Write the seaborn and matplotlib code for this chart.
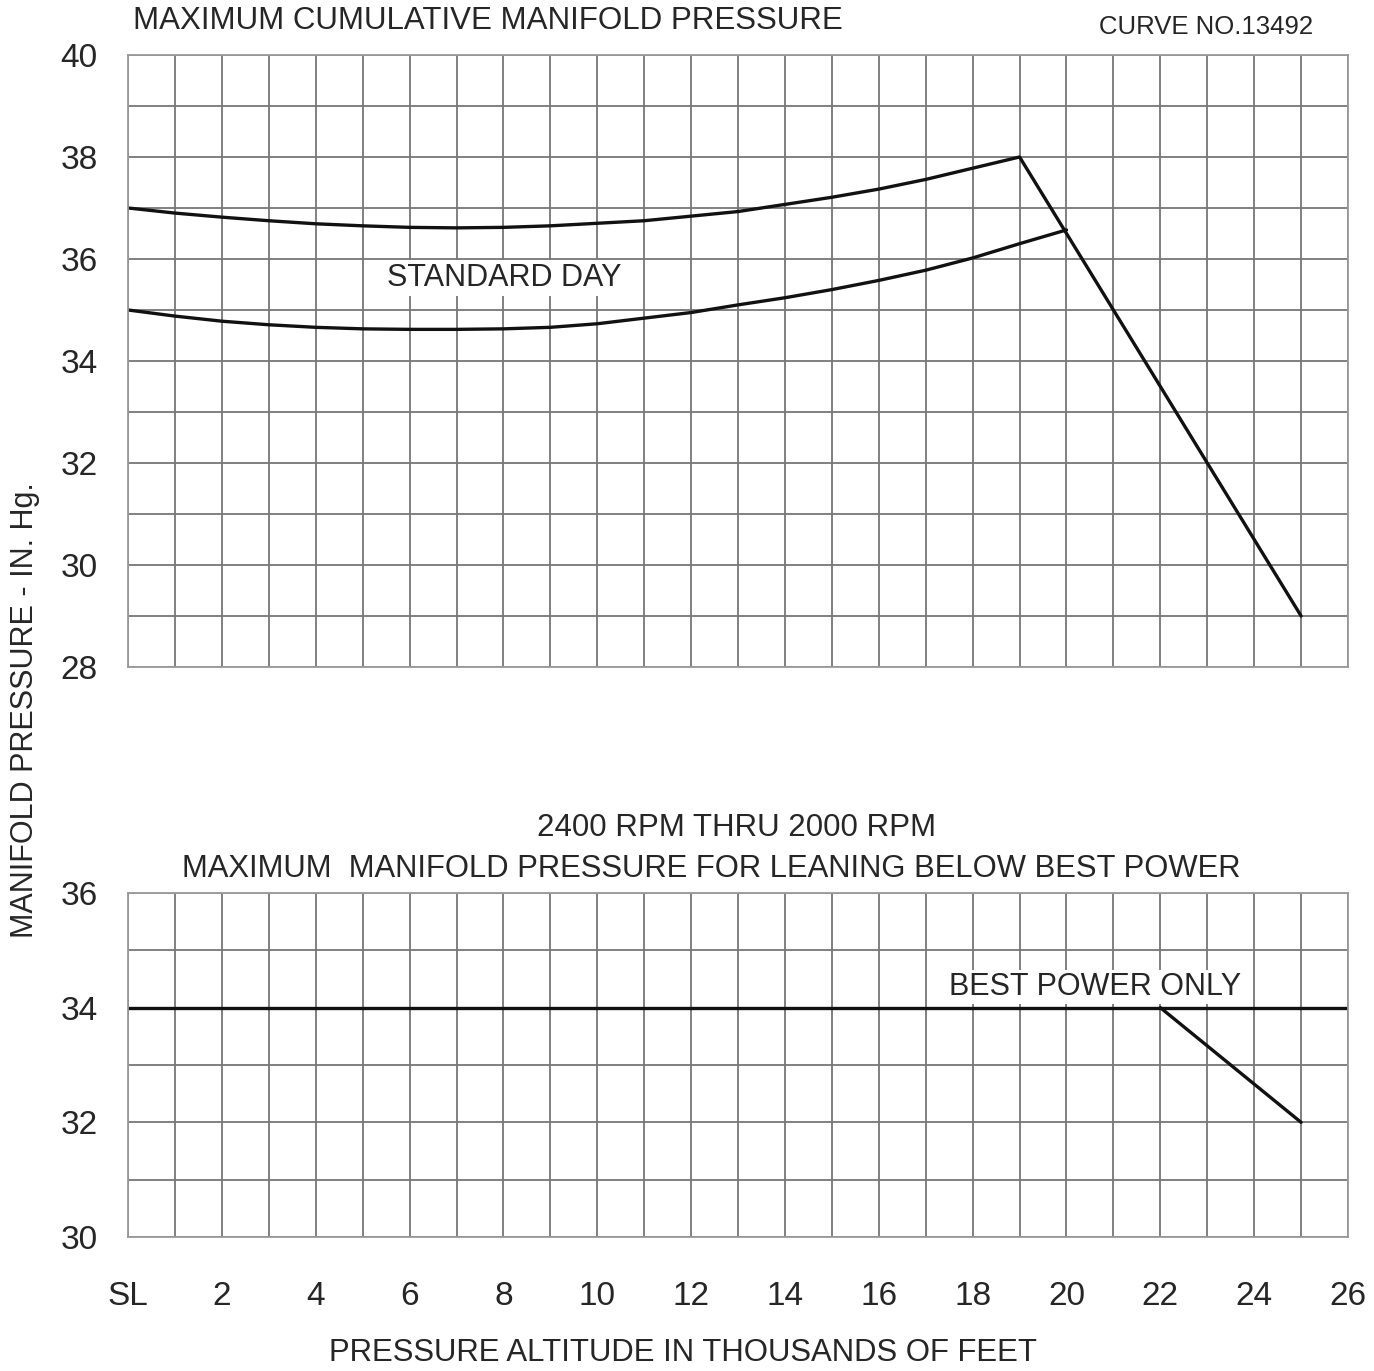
import matplotlib
matplotlib.use("Agg")
import matplotlib.pyplot as plt
import seaborn as sns
from matplotlib.ticker import MultipleLocator

# 上图: 最大累计进气压力
upper_alt = [0, 1, 2, 3, 4, 5, 6, 7, 8, 9, 10, 11, 12, 13, 14, 15, 16, 17, 18, 19, 25]
upper_mp = [37.0, 36.9, 36.82, 36.75, 36.69, 36.65, 36.62, 36.61, 36.62, 36.65, 36.7,
            36.75, 36.84, 36.93, 37.07, 37.21, 37.37, 37.56, 37.78, 38.0, 29.0]
std_alt = [0, 1, 2, 3, 4, 5, 6, 7, 8, 9, 10, 11, 12, 13, 14, 15, 16, 17, 18, 19, 20]
std_mp = [35.0, 34.88, 34.78, 34.71, 34.66, 34.63, 34.62, 34.62, 34.63, 34.66, 34.73,
          34.84, 34.95, 35.1, 35.24, 35.4, 35.58, 35.78, 36.02, 36.3, 36.57]

# 下图: 贫油限制
lean_alt = [0, 26]
lean_mp = [34.0, 34.0]
best_alt = [22, 25]
best_mp = [34.0, 32.0]

x_ticks = [0, 2, 4, 6, 8, 10, 12, 14, 16, 18, 20, 22, 24, 26]
x_labels = ["SL", "2", "4", "6", "8", "10", "12", "14", "16", "18", "20", "22", "24", "26"]

sns.set_style("white")
plt.rcParams["font.family"] = ["Liberation Sans", "DejaVu Sans"]

fig = plt.figure(figsize=(13.74, 13.71), dpi=100)
ax1 = fig.add_axes([0.0932, 0.5135, 0.8879, 0.4464])
ax2 = fig.add_axes([0.0932, 0.0977, 0.8879, 0.2510])

grid_kw = dict(color="#767676", linewidth=1.3)
line_kw = dict(color="#111111", linewidth=2.4)

for ax in (ax1, ax2):
    ax.set_xlim(0, 26)
    ax.xaxis.set_major_locator(MultipleLocator(1))
    ax.yaxis.set_major_locator(MultipleLocator(1))
    ax.grid(True, which="major", **grid_kw)
    for s in ax.spines.values():
        s.set_color("#9a9a9a")
        s.set_linewidth(1.3)
    ax.tick_params(length=0)

# 上图
sns.lineplot(x=upper_alt, y=upper_mp, ax=ax1, sort=False, **line_kw)
sns.lineplot(x=std_alt, y=std_mp, ax=ax1, sort=False, **line_kw)
ax1.set_ylim(28, 40)
ax1.set_yticks(range(28, 41, 1))
ax1.set_yticklabels([str(v) if v % 2 == 0 else "" for v in range(28, 41)], fontsize=24)
ax1.tick_params(axis="y", pad=22)
ax1.set_xticklabels([])
ax1.set_xlabel("")
ax1.set_ylabel("")
ax1.text(5.52, 35.63, "STANDARD DAY", fontsize=22, va="center", ha="left",
         bbox=dict(facecolor="white", edgecolor="none", pad=2))

# 下图
sns.lineplot(x=lean_alt, y=lean_mp, ax=ax2, **line_kw)
sns.lineplot(x=best_alt, y=best_mp, ax=ax2, **line_kw)
ax2.set_ylim(30, 36)
ax2.set_yticks(range(30, 37, 1))
ax2.set_yticklabels([str(v) if v % 2 == 0 else "" for v in range(30, 37)], fontsize=24)
ax2.tick_params(axis="y", pad=22)
ax2.set_xlabel("")
ax2.set_ylabel("")
ax2.text(17.5, 34.36, "BEST POWER ONLY", fontsize=22, va="center", ha="left",
         bbox=dict(facecolor="white", edgecolor="none", pad=1))

# x 轴刻度标签 (只在下图)
ax2.set_xticks(range(0, 27, 1))
ax2.set_xticklabels([x_labels[x_ticks.index(v)] if v in x_ticks else "" for v in range(0, 27)],
                    fontsize=24)
ax2.tick_params(axis="x", pad=32)

# 标题与轴标签
fig.text(133 / 1374, 1 - 21 / 1371, "MAXIMUM CUMULATIVE MANIFOLD PRESSURE",
         fontsize=22.5, ha="left", va="center")
fig.text(1313 / 1374, 1 - 27 / 1371, "CURVE NO.13492", fontsize=18.5, ha="right", va="center")
fig.text(737 / 1374, 1 - 828 / 1371, "2400 RPM THRU 2000 RPM", fontsize=22.5, ha="center", va="center")
fig.text(711 / 1374, 1 - 869 / 1371, "MAXIMUM  MANIFOLD PRESSURE FOR LEANING BELOW BEST POWER",
         fontsize=22.3, ha="center", va="center")
fig.text(683 / 1374, 1 - 1353 / 1371, "PRESSURE ALTITUDE IN THOUSANDS OF FEET",
         fontsize=22.4, ha="center", va="center")
fig.text(25 / 1374, 1 - 710 / 1371, "MANIFOLD PRESSURE - IN. Hg.", fontsize=22,
         rotation=90, ha="center", va="center")

fig.savefig("out.png", dpi=100)
plt.close(fig)
